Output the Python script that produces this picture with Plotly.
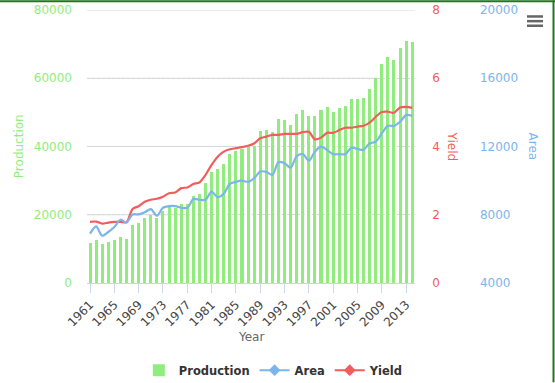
import plotly.graph_objects as go

years = list(range(1961, 2015))

production = [11830, 12700, 11530, 12120, 12700, 13580, 12990, 17080, 17670, 19130,
              20000, 19130, 21170, 22630, 22050, 23210, 23210, 25550, 26130, 29350,
              32560, 33430, 34890, 37810, 38690, 39270, 39860, 40150, 44530, 44820,
              44240, 48030, 47740, 46280, 49490, 50660, 48910, 48910, 50660, 51540,
              50080, 51250, 51830, 53870, 53870, 54170, 56790, 60000, 64090, 66140,
              65260, 68760, 70810, 70520]

yield_vals = [1.79, 1.80, 1.74, 1.77, 1.79, 1.79, 1.78, 2.17, 2.25, 2.38,
              2.44, 2.47, 2.53, 2.63, 2.65, 2.78, 2.80, 2.90, 2.95, 3.17,
              3.46, 3.70, 3.85, 3.92, 3.95, 3.98, 4.02, 4.09, 4.24, 4.29,
              4.34, 4.34, 4.37, 4.37, 4.37, 4.42, 4.43, 4.21, 4.26, 4.40,
              4.40, 4.48, 4.55, 4.55, 4.58, 4.61, 4.70, 4.87, 5.01, 5.02,
              4.99, 5.14, 5.16, 5.13]

area = [6890, 7320, 6770, 6990, 7280, 7710, 7550, 8020, 8020, 8140,
        8330, 7940, 8410, 8510, 8510, 8410, 8410, 8920, 8880, 8880,
        9360, 9030, 9230, 9810, 9930, 10000, 9930, 10140, 10530, 10510,
        10340, 11080, 11020, 10760, 11430, 11560, 11170, 11700, 11990, 11800,
        11550, 11550, 11550, 11930, 11860, 11800, 12190, 12280, 12770, 13220,
        13200, 13450, 13840, 13800]

tick_years = years[::4]

GREEN = "#90ed7d"
BLUE = "#7cb5ec"
RED = "#f45b5b"
FONT = "DejaVu Sans"

W, H = 555, 383
L, R, T, B = 87.3, 0, 9.5, 99.5
PW = W - L - R
PH = H - T - B
x_end = 415.3
dom_end = (x_end - L) / PW

def px_x(x):
    return (x - L) / PW

def px_y(y):
    return (H - B - y) / PH

fig = go.Figure()

fig.add_trace(go.Bar(x=years, y=production, name="Production", marker_color=GREEN,
                     marker_line_width=0, width=0.5, yaxis="y", hoverinfo="x+y"))
fig.add_trace(go.Scatter(x=years, y=area, name="Area", mode="lines", yaxis="y3",
                         line=dict(color=BLUE, width=2.2, shape="spline", smoothing=0.8),
                         showlegend=False))
fig.add_trace(go.Scatter(x=years, y=yield_vals, name="Yield", mode="lines", yaxis="y2",
                         line=dict(color=RED, width=2.2, shape="spline", smoothing=0.8),
                         showlegend=False))
# legend entries with diamond markers
fig.add_trace(go.Scatter(x=[None], y=[None], name="Area", mode="lines+markers", yaxis="y3",
                         line=dict(color=BLUE, width=2),
                         marker=dict(symbol="diamond", size=9, color=BLUE)))
fig.add_trace(go.Scatter(x=[None], y=[None], name="Yield", mode="lines+markers", yaxis="y2",
                         line=dict(color=RED, width=2),
                         marker=dict(symbol="diamond", size=9, color=RED)))

shapes = []
# solid production grid segments
for yv, xr in [(80000, 415.3), (60000, 377), (40000, 248), (20000, 190)]:
    shapes.append(dict(type="line", xref="paper", yref="y", x0=0, x1=px_x(xr), y0=yv, y1=yv,
                       line=dict(color="#d8d8d8", width=1), layer="below"))
# hamburger menu icon
for yy in [16, 20.7, 25.3]:
    shapes.append(dict(type="line", xref="paper", yref="paper", x0=px_x(527), x1=px_x(543),
                       y0=px_y(yy), y1=px_y(yy), line=dict(color="#666666", width=2.5)))
# chart border (top and right)
shapes.append(dict(type="line", xref="paper", yref="paper", x0=px_x(0), x1=px_x(555),
                   y0=px_y(0.75), y1=px_y(0.75), line=dict(color="#1a7a1a", width=2)))
shapes.append(dict(type="line", xref="paper", yref="paper", x0=px_x(553.5), x1=px_x(553.5),
                   y0=px_y(0), y1=px_y(383), line=dict(color="#1a7a1a", width=2)))

annotations = [
    dict(text="Production", xref="paper", yref="paper", x=px_x(19), y=0.5, showarrow=False,
         textangle=-90, font=dict(family=FONT, size=12, color=GREEN), xanchor="center", yanchor="middle"),
    dict(text="Yield", xref="paper", yref="paper", x=px_x(453), y=0.5, showarrow=False,
         textangle=90, font=dict(family=FONT, size=12, color=RED), xanchor="center", yanchor="middle"),
    dict(text="Area", xref="paper", yref="paper", x=px_x(534), y=0.5, showarrow=False,
         textangle=90, font=dict(family=FONT, size=12, color=BLUE), xanchor="center", yanchor="middle"),
    dict(text="Year", xref="paper", yref="paper", x=px_x(251.5), y=px_y(338), showarrow=False,
         font=dict(family=FONT, size=12, color="#666666"), xanchor="center", yanchor="middle"),
]

fig.update_layout(
    width=W, height=H,
    margin=dict(l=L, r=R, t=T, b=B, pad=0, autoexpand=False),
    paper_bgcolor="white", plot_bgcolor="white",
    font=dict(family=FONT, size=12, color="#333333"),
    bargap=0,
    showlegend=True,
    legend=dict(orientation="h", x=px_x(274), xanchor="center", y=px_y(371), yanchor="middle",
                font=dict(family="DejaVu Sans", size=11.5, color="#333333", weight="bold"),
                itemwidth=30, bgcolor="rgba(0,0,0,0)", traceorder="normal"),
    xaxis=dict(domain=[0, dom_end], range=[1960.5, 2014.5], tickmode="array", tickvals=tick_years,
               ticktext=[str(y) for y in tick_years], tickangle=-45, ticks="outside", ticklen=9,
               tickcolor="#ccd6eb", showline=True, linecolor="#ccd6eb", linewidth=1,
               showgrid=False, zeroline=False, automargin=False,
               tickfont=dict(family=FONT, size=12, color="#444444")),
    yaxis=dict(range=[0, 80000], dtick=20000, tickformat="d", showgrid=False, zeroline=False, ticks="",
               tickfont=dict(family=FONT, size=12, color=GREEN), ticklabelstandoff=14,
               automargin=False),
    yaxis2=dict(range=[0, 8], dtick=2, overlaying="y", side="right", anchor="free", position=dom_end,
                showgrid=True, gridcolor="#d8d8d8", griddash="3px,2px", zeroline=False, ticks="",
                tickfont=dict(family=FONT, size=12, color=RED), ticklabelstandoff=16,
                automargin=False),
    yaxis3=dict(range=[4000, 20000], dtick=4000, tickformat="d", overlaying="y", side="right",
                anchor="free", position=px_x(465), showgrid=False, zeroline=False, ticks="",
                tickfont=dict(family=FONT, size=12, color=BLUE), ticklabelstandoff=14,
                automargin=False),
    shapes=shapes,
    annotations=annotations,
)

fig.write_html("out.html", config={"displayModeBar": False},
               post_script="document.body.style.margin='0';")
